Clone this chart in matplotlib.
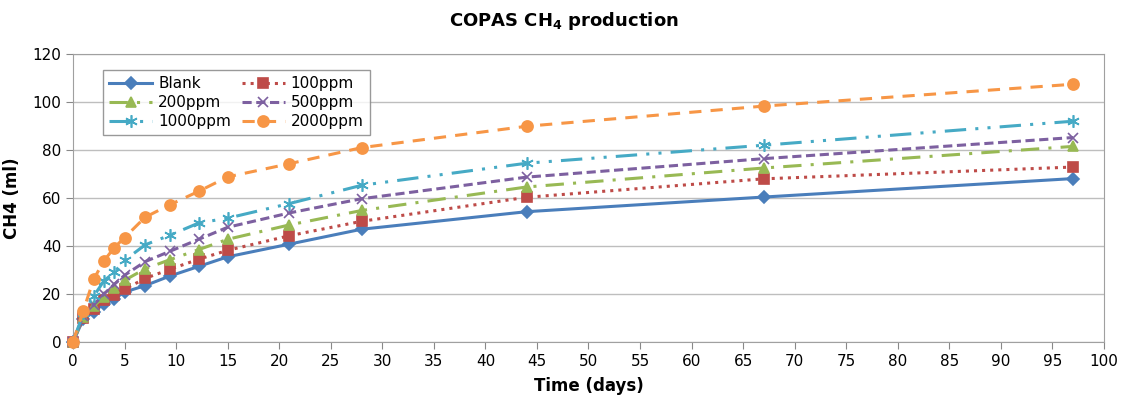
import matplotlib.pyplot as plt

# Sampling days and cumulative CH4 volume (ml) for each dose
days = [0, 1, 2, 3, 4, 5, 7, 9.4, 12.2, 15, 21, 28, 44, 67, 97]
blank = [0, 9.5, 12.5, 16, 18, 20.8, 23.5, 27.5, 31.5, 35.5, 40.8, 47, 54.3, 60.4, 68.1]
ppm100 = [0, 10, 13.9, 17.4, 19.5, 22, 26.5, 30.3, 34.5, 38.2, 44.3, 50.3, 60.3, 68, 72.9]
ppm200 = [0, 10.5, 14.9, 18.8, 22.5, 25.7, 30.5, 34.3, 38.5, 42.8, 48.8, 54.8, 64.6, 72.5, 81.5]
ppm500 = [0, 11, 15.5, 20, 24, 27.8, 33.5, 37.8, 42.8, 47.8, 53.8, 59.7, 68.7, 76.4, 85.2]
ppm1000 = [0, 12, 19, 25.5, 29, 34, 40.5, 44.5, 49.6, 51.6, 57.7, 65.3, 74.5, 82, 92]
ppm2000 = [0, 13, 26.1, 33.8, 39.3, 43.5, 52, 57.2, 62.8, 68.8, 74.3, 81, 89.9, 98.3, 107.4]

series = [
    ("Blank", blank, "#4A7EBB", "-", "D", 6),
    ("100ppm", ppm100, "#BE4B48", ":", "s", 7.5),
    ("200ppm", ppm200, "#98B954", (0, (6, 3, 1, 3)), "^", 7.5),
    ("500ppm", ppm500, "#7D60A0", (0, (3, 1.5)), "x", 7.5),
    ("1000ppm", ppm1000, "#46AAC5", (0, (7, 3, 1, 3, 1, 3)), (6, 2, 0), 9),
    ("2000ppm", ppm2000, "#F79646", (0, (4, 3)), "o", 8),
]

fig = plt.figure(figsize=(11.28, 4.01), dpi=100)
ax = fig.add_axes([0.0647, 0.1471, 0.9140, 0.7182])

lines = []
for name, vals, color, ls, mk, ms in series:
    ln, = ax.plot(days, vals, color=color, linestyle=ls, linewidth=2.2, marker=mk,
                  markersize=ms, markerfacecolor=color, markeredgecolor=color,
                  markeredgewidth=1.2, label=name, clip_on=False, zorder=3)
    lines.append(ln)

ax.set_xlim(0, 100)
ax.set_ylim(0, 120)
ax.set_xticks(range(0, 101, 5))
ax.set_yticks(range(0, 121, 20))
ax.tick_params(labelsize=11, color="#888888", length=5, labelcolor="black")
ax.grid(axis="y", color="#BEBEBE", linewidth=1)
ax.set_axisbelow(True)
for s in ax.spines.values():
    s.set_color("#A0A0A0")

ax.set_xlabel("Time (days)", fontsize=12, fontweight="bold", labelpad=6)
ax.set_ylabel("CH4 (ml)", fontsize=12, fontweight="bold", labelpad=8)
fig.suptitle("COPAS CH$_\\mathbf{4}$ production", fontsize=13, fontweight="bold", y=0.975)

# legend fills column by column: reorder so rows read Blank/100, 200/500, 1000/2000
order = [0, 2, 4, 1, 3, 5]
leg = ax.legend([lines[i] for i in order], [series[i][0] for i in order],
                loc="upper left", bbox_to_anchor=(0.022, 0.97), ncol=2, fontsize=11,
                frameon=True, fancybox=False, edgecolor="#808080", handlelength=2.8,
                columnspacing=0.7, labelspacing=0.25, borderpad=0.4, handletextpad=0.4)
leg.get_frame().set_linewidth(1.0)
leg.set_zorder(5)

fig.savefig("out.png", dpi=100)
